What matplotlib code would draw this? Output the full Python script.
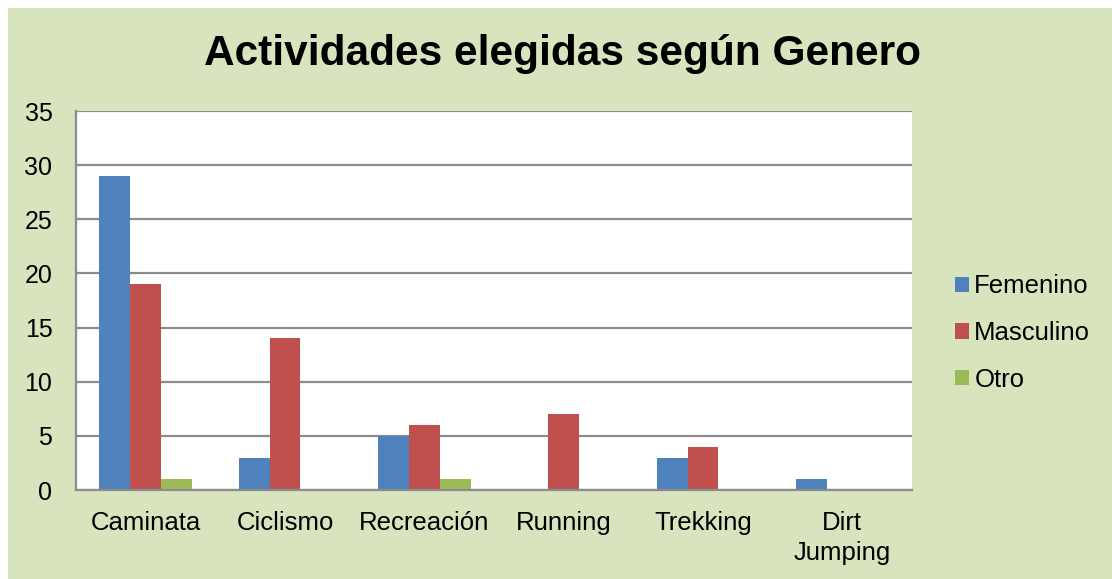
import matplotlib
matplotlib.use("Agg")
import matplotlib.pyplot as plt
import numpy as np
from matplotlib.patches import Rectangle

categories = ["Caminata", "Ciclismo", "Recreación", "Running", "Trekking", "Dirt\nJumping"]
series_names = ["Femenino", "Masculino", "Otro"]
femenino = [29, 3, 5, 0, 3, 1]
masculino = [19, 14, 6, 7, 4, 0]
otro = [1, 0, 1, 0, 0, 0]
colors = ["#4F81BD", "#C0504D", "#9BBB59"]
yticks = [0, 5, 10, 15, 20, 25, 30, 35]

plt.rcParams['font.family'] = ['Liberation Sans', 'DejaVu Sans']

W, H = 1112, 579
fig = plt.figure(figsize=(W / 100, H / 100), dpi=100)
fig.patch.set_facecolor("white")
fig.patches.append(Rectangle((8 / W, 0), 1 - 8 / W, 1 - 8 / H, transform=fig.transFigure,
                             facecolor="#D7E4BD", edgecolor="none", zorder=-10))

ax = fig.add_axes([76 / W, 1 - 490 / H, (912 - 76) / W, (490 - 111) / H])
ax.set_facecolor("white")

x = np.arange(len(categories))
bw = 1 / 4.5
for i, (vals, name) in enumerate(zip([femenino, masculino, otro], series_names)):
    ax.bar(x + (i - 1) * bw, vals, width=bw, color=colors[i], label=name, zorder=3)

ax.set_xlim(-0.5, len(categories) - 0.5)
ax.set_ylim(0, 35)
ax.set_yticks(yticks)
ax.set_xticks(x)
ax.set_xticklabels(categories, fontsize=18.5, linespacing=1.3)
ax.tick_params(axis='y', length=0, pad=17, labelsize=18)
ax.tick_params(axis='x', length=0, pad=15)
ax.yaxis.grid(True, color="#8C8C8C", linewidth=1.6, zorder=0)
for s in ["top", "right"]:
    ax.spines[s].set_visible(False)
for s in ["left", "bottom"]:
    ax.spines[s].set_color("#8C8C8C")
    ax.spines[s].set_linewidth(1.6)
    ax.spines[s].set_zorder(4)

fig.text(563 / W, 1 - 54 / H, "Actividades elegidas según Genero", fontsize=30.5,
         fontweight="bold", ha="center", va="center")

leg = fig.legend(loc="center left", bbox_to_anchor=(955 / W, 1 - 333 / H), frameon=False,
                 fontsize=18.5, handlelength=0.55, handleheight=0.55, handletextpad=0.2,
                 labelspacing=0.88, borderpad=0, borderaxespad=0)

fig.savefig("out.png", dpi=100)
